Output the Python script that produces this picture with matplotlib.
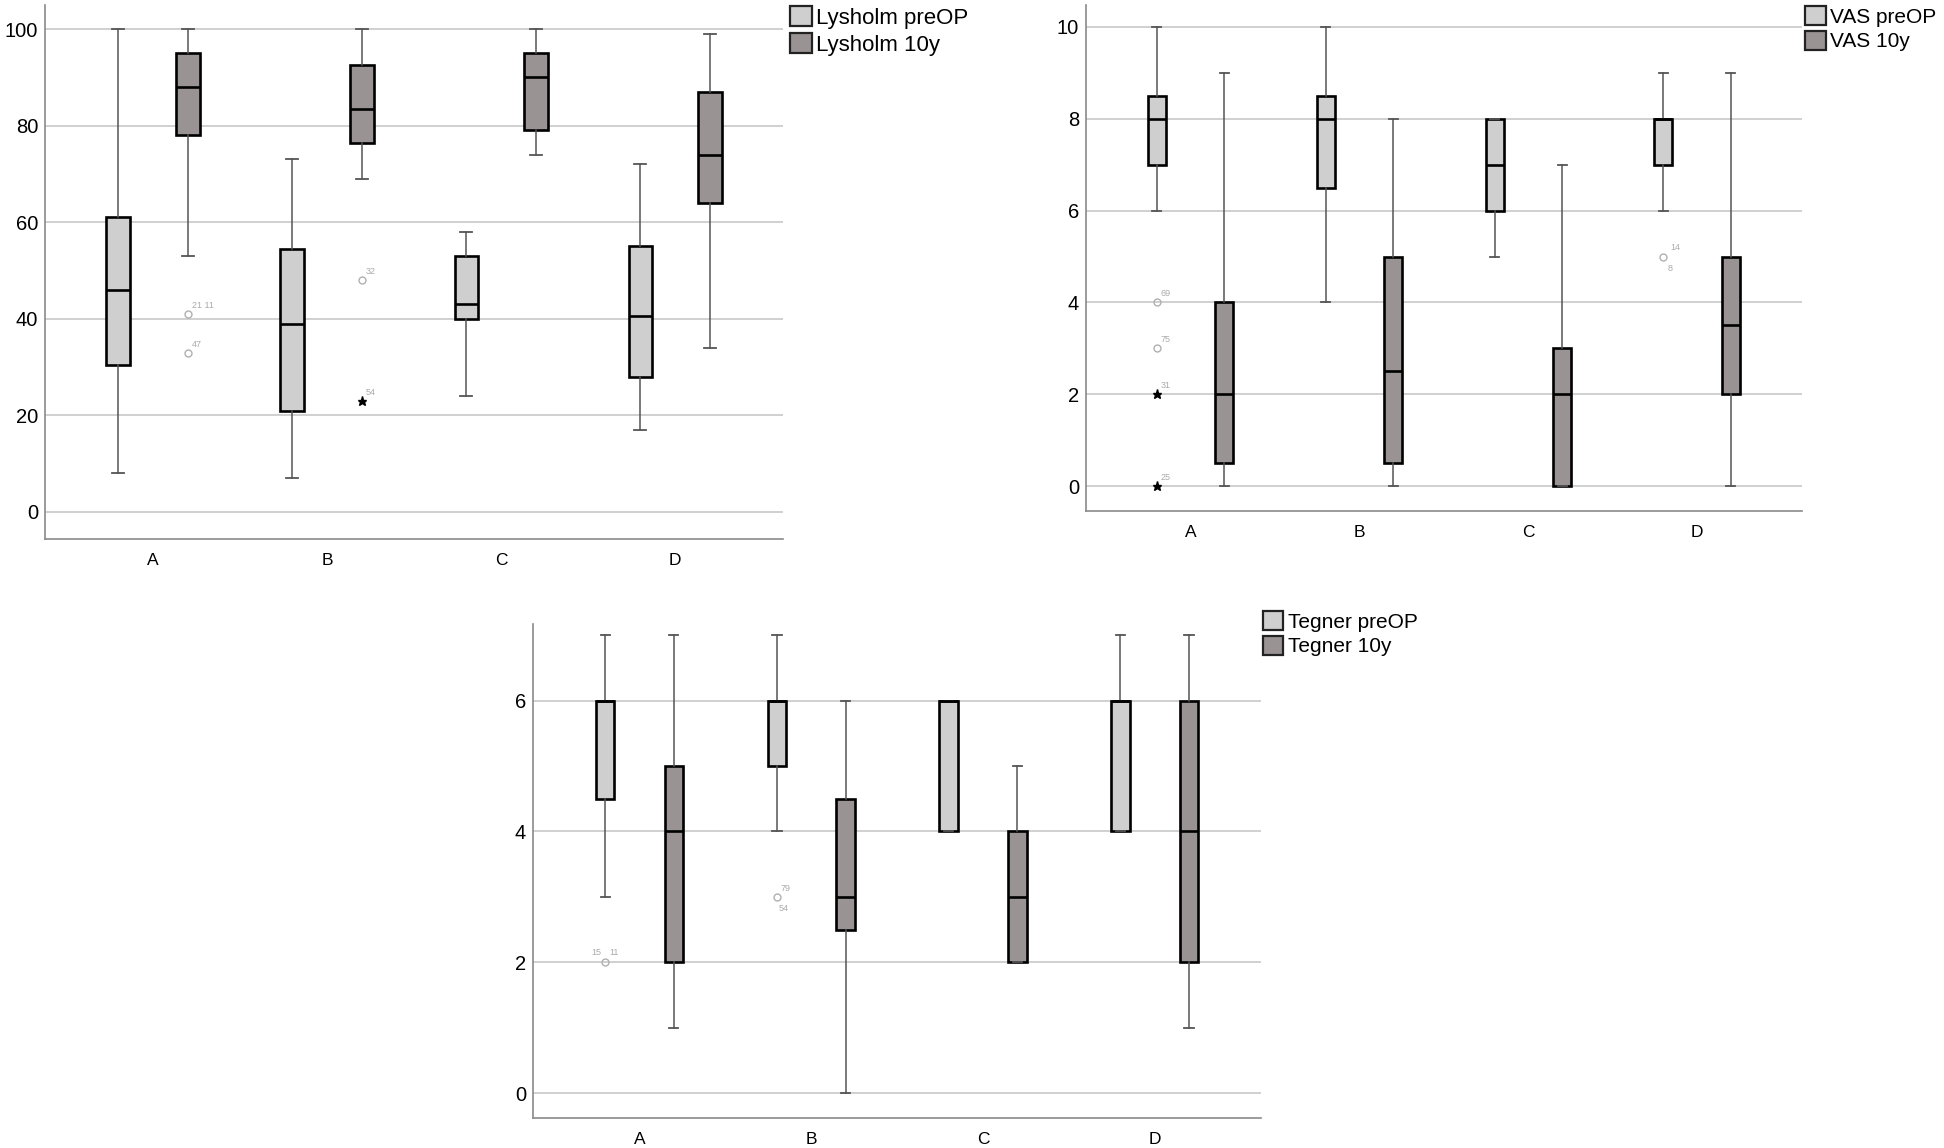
import matplotlib.pyplot as plt
from matplotlib.patches import Patch

plt.rcParams['font.family'] = ['Liberation Sans', 'DejaVu Sans']

groups = ["A", "B", "C", "D"]

# box stats per group: (lower whisker, Q1, median, Q3, upper whisker)
lysholm_pre = [(8, 30.5, 46, 61, 100), (7, 21, 39, 54.5, 73), (24, 40, 43, 53, 58), (17, 28, 40.5, 55, 72)]
lysholm_10y = [(53, 78, 88, 95, 100), (69, 76.5, 83.5, 92.5, 100), (74, 79, 90, 95, 100), (34, 64, 74, 87, 99)]
vas_pre = [(6, 7, 8, 8.5, 10), (4, 6.5, 8, 8.5, 10), (5, 6, 7, 8, 8), (6, 7, 8, 8, 9)]
vas_10y = [(0, 0.5, 2, 4, 9), (0, 0.5, 2.5, 5, 8), (0, 0, 2, 3, 7), (0, 2, 3.5, 5, 9)]
tegner_pre = [(3, 4.5, 6, 6, 7), (4, 5, 6, 6, 7), (4, 4, 6, 6, 6), (4, 4, 6, 6, 7)]
tegner_10y = [(1, 2, 4, 5, 7), (0, 2.5, 3, 4.5, 6), (2, 2, 3, 4, 5), (1, 2, 4, 6, 7)]

# outliers: (group index, series 0=preOP 1=10y, value, case labels, kind)
lysholm_out = [(0, 1, 41, ["21 11"], "o"), (0, 1, 33, ["47"], "o"),
               (1, 1, 48, ["32"], "o"), (1, 1, 23, ["54"], "*")]
vas_out = [(0, 0, 4, ["69"], "o"), (0, 0, 3, ["75"], "o"), (0, 0, 2, ["31"], "*"),
           (0, 0, 0, ["25"], "*"), (3, 0, 5, ["14", "8"], "o")]
tegner_out = [(0, 0, 2, ["15", "11"], "o"), (1, 0, 3, ["79", "54"], "o")]

# label offsets in pixels (same order as the outlier lists)
lysholm_off = [[(4, 4)], [(4, 4)], [(4, 4)], [(4, 4)]]
vas_off = [[(4, 4)], [(4, 4)], [(4, 4)], [(4, 4)], [(7, 5), (4, -16)]]
tegner_off = [[(-14, 5), (4, 5)], [(4, 4), (2, -16)]]

pre_color = '#cfcfcf'
post_color = '#9a9393'
whisk_color = '#555555'
grid_color = '#c8c8c8'
label_gray = '#aaaaaa'

fig = plt.figure(figsize=(19.44, 11.48), dpi=100)


def draw_panel(rect, pre, post, outliers, offsets, box_w, ylim, yticks, names, leg_anchor, leg_size):
    ax = fig.add_axes(rect)
    stats, positions = [], []
    for i in range(len(groups)):
        for s, series in enumerate((pre, post)):
            lo, q1, med, q3, hi = series[i]
            stats.append(dict(whislo=lo, q1=q1, med=med, q3=q3, whishi=hi, fliers=[]))
            positions.append(i + (s - 0.5) * 0.4)
    bp = ax.bxp(stats, positions=positions, widths=box_w, patch_artist=True, showfliers=False,
                boxprops=dict(edgecolor='black', linewidth=1.9),
                medianprops=dict(color='black', linewidth=1.9),
                whiskerprops=dict(color=whisk_color, linewidth=1.1),
                capprops=dict(color=whisk_color, linewidth=1.3))
    for k, box in enumerate(bp['boxes']):
        box.set_facecolor(pre_color if k % 2 == 0 else post_color)

    for (g, s, val, labels, kind), offs in zip(outliers, offsets):
        x = g + (s - 0.5) * 0.4
        if kind == "o":
            ax.plot(x, val, 'o', ms=5, mfc='none', mec='#b0b0b0', mew=1, zorder=3)
        else:
            ax.plot(x, val, '*', ms=6.5, color='black', zorder=3)
        for lab, off in zip(labels, offs):
            ax.annotate(lab, (x, val), xytext=off, textcoords='offset pixels',
                        fontsize=6.5, color=label_gray, ha='left', va='bottom')

    ax.set_xlim(-0.62, 3.62)
    ax.set_ylim(*ylim)
    ax.set_xticks(range(len(groups)))
    ax.set_xticklabels(groups, fontsize=12.5)
    ax.set_yticks(yticks)
    ax.tick_params(axis='y', labelsize=14.5, length=0, pad=5)
    ax.tick_params(axis='x', length=0, pad=10)
    ax.yaxis.grid(True, color=grid_color, linewidth=1.2)
    ax.set_axisbelow(True)
    for side in ['top', 'right']:
        ax.spines[side].set_visible(False)
    for side in ['left', 'bottom']:
        ax.spines[side].set_color('#8a8a8a')
        ax.spines[side].set_linewidth(1.2)

    handles = [Patch(facecolor=pre_color, edgecolor='#222222', linewidth=1.6, label=names[0]),
               Patch(facecolor=post_color, edgecolor='#222222', linewidth=1.6, label=names[1])]
    fig.legend(handles=handles, loc='upper left', bbox_to_anchor=leg_anchor, fontsize=leg_size,
               frameon=False, handlelength=1.0, handleheight=1.0, handletextpad=0.2,
               labelspacing=0.2, borderpad=0, borderaxespad=0)
    return ax


draw_panel([0.0232, 0.5305, 0.3796, 0.4652], lysholm_pre, lysholm_10y, lysholm_out, lysholm_off,
           0.135, (-5.6, 105), range(0, 101, 20), ["Lysholm preOP", "Lysholm 10y"], (0.4062, 0.9945), 16)
draw_panel([0.5586, 0.5549, 0.3683, 0.4408], vas_pre, vas_10y, vas_out, vas_off,
           0.107, (-0.54, 10.48), range(0, 11, 2), ["VAS preOP", "VAS 10y"], (0.9285, 0.9945), 15)
draw_panel([0.2742, 0.0261, 0.3745, 0.4303], tegner_pre, tegner_10y, tegner_out, tegner_off,
           0.108, (-0.38, 7.17), range(0, 7, 2), ["Tegner preOP", "Tegner 10y"], (0.6495, 0.4675), 15)

plt.savefig('out.png', dpi=100)
